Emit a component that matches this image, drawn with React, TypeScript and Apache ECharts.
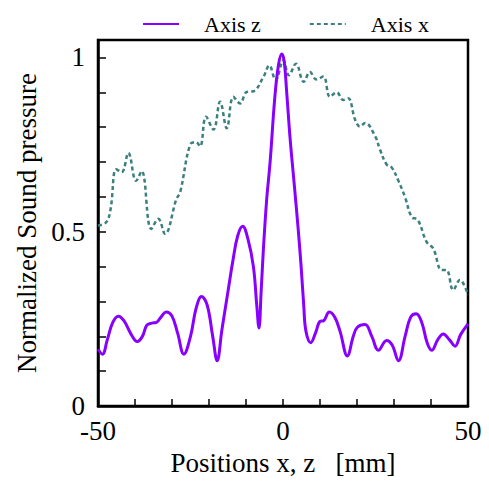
import React, { useEffect, useRef } from "react";
import * as echarts from "echarts";

const Z_POS = [-50, -48.8, -47.5, -46, -44.5, -43, -41, -39.4, -38, -36.8, -35.5, -34.2, -33, -31.6, -30, -28.5, -26.8, -25, -23.5, -22, -20.5, -19, -17.8, -16.5, -15, -13.5, -12.2, -10.9, -9.5, -8.0, -7.1, -6.5, -5.9, -5.3, -4.4, -3.5, -2.2, -1.2, -0.35, 0.3, 1.0, 1.9, 3.0, 4.1, 4.9, 5.6, 6.2, 7.5, 8.8, 10, 11, 12.5, 14, 15.4, 17.4, 19, 20.1, 22.2, 24, 25.8, 28, 29.5, 31.2, 33, 34.5, 36, 37.5, 39, 40.2, 41.8, 43.3, 45, 46.5, 48, 50];
const Z_VAL = [0.163, 0.149, 0.19, 0.24, 0.258, 0.245, 0.205, 0.185, 0.2, 0.232, 0.238, 0.24, 0.255, 0.27, 0.258, 0.21, 0.149, 0.2, 0.28, 0.314, 0.29, 0.2, 0.13, 0.22, 0.32, 0.42, 0.49, 0.516, 0.48, 0.40, 0.29, 0.224, 0.33, 0.45, 0.594, 0.698, 0.887, 0.98, 1.01, 0.99, 0.9, 0.77, 0.64, 0.508, 0.40, 0.29, 0.215, 0.182, 0.21, 0.243, 0.245, 0.27, 0.255, 0.215, 0.144, 0.2, 0.226, 0.234, 0.2, 0.16, 0.188, 0.175, 0.13, 0.2, 0.255, 0.265, 0.24, 0.18, 0.16, 0.19, 0.207, 0.19, 0.172, 0.205, 0.236];

const X_POS = [-50, -47.8, -46.6, -45.1, -43.6, -41.8, -39.7, -38.2, -35.6, -33.7, -31.9, -28.8, -27.8, -25.1, -23.5, -22.4, -20.8, -18.8, -17, -15.2, -13.4, -11.6, -9.8, -8.0, -5.3, -3.7, -2.0, 0.1, 1.6, 3.5, 5.6, 7.3, 9.0, 10.9, 12.7, 14.5, 16.3, 17.6, 19.5, 20.8, 22.2, 24.9, 26.2, 28, 29.4, 31.2, 33, 34.8, 36.4, 38.8, 40.6, 42.9, 44.2, 46, 47.8, 50];
const X_VAL = [0.518, 0.527, 0.565, 0.679, 0.671, 0.726, 0.646, 0.674, 0.508, 0.537, 0.494, 0.594, 0.613, 0.75, 0.757, 0.745, 0.83, 0.793, 0.873, 0.797, 0.887, 0.868, 0.901, 0.903, 0.944, 0.977, 0.935, 0.991, 0.949, 0.982, 0.93, 0.958, 0.937, 0.945, 0.887, 0.9, 0.878, 0.883, 0.821, 0.802, 0.812, 0.774, 0.736, 0.693, 0.684, 0.646, 0.599, 0.542, 0.535, 0.471, 0.452, 0.39, 0.39, 0.333, 0.362, 0.319];

const X_LABELS = [-50, 0, 50];
const Y_LABELS = [0, 0.5, 1];

const FONT = "'Liberation Serif', 'Times New Roman', 'DejaVu Serif', serif";
const PURPLE = "#8800ff";
const TEAL = "#3b7f7f";

export default function App() {
  const ref = useRef<HTMLDivElement>(null);
  useEffect(() => {
    if (!ref.current) return;
    const chart = echarts.init(ref.current, null, { renderer: "svg" });
    chart.setOption({
      animation: false,
      textStyle: { fontFamily: FONT },
      legend: {
        left: 137,
        top: 8,
        itemWidth: 36,
        itemHeight: 14,
        itemGap: 48,
        itemStyle: { opacity: 0 },
        textStyle: { fontFamily: FONT, fontSize: 22, color: "#000", padding: [0, 0, 0, 20] },
        data: ["Axis z", "Axis x"],
      },
      grid: {
        left: 98,
        right: 21,
        top: 40,
        bottom: 72,
        show: true,
        borderColor: "#000",
        borderWidth: 2.5,
        backgroundColor: "transparent",
      },
      xAxis: {
        type: "value",
        min: -50,
        max: 50,
        interval: 10,
        name: "Positions x, z   [mm]",
        nameLocation: "middle",
        nameGap: 42,
        nameTextStyle: { fontFamily: FONT, fontSize: 27, color: "#000" },
        axisLine: { onZero: false, lineStyle: { color: "#000", width: 2.5 } },
        axisTick: { inside: true, length: 7, lineStyle: { color: "#000", width: 1.5 } },
        axisLabel: {
          margin: 11,
          fontFamily: FONT,
          fontSize: 27,
          color: "#000",
          formatter: (v: number) => (X_LABELS.includes(v) ? String(v) : ""),
        },
        splitLine: { show: false },
      },
      yAxis: {
        type: "value",
        min: 0,
        max: 1.05,
        interval: 0.1,
        name: "Normalized Sound pressure",
        nameLocation: "middle",
        nameGap: 56,
        nameTextStyle: { fontFamily: FONT, fontSize: 27, color: "#000" },
        axisLine: { show: true, onZero: false, lineStyle: { color: "#000", width: 2.5 } },
        axisTick: { show: true, inside: true, length: 8, lineStyle: { color: "#000", width: 1.5 } },
        axisLabel: {
          margin: 13,
          fontFamily: FONT,
          fontSize: 27,
          color: "#000",
          formatter: (v: number) => {
            const r = Math.round(v * 100) / 100;
            return Y_LABELS.includes(r) ? String(r) : "";
          },
        },
        splitLine: { show: false },
      },
      series: [
        {
          name: "Axis z",
          type: "line",
          data: Z_POS.map((x, i) => [x, Z_VAL[i]]),
          smooth: 0.4,
          symbol: "none",
          lineStyle: { color: PURPLE, width: 3 },
          itemStyle: { color: PURPLE },
          z: 3,
        },
        {
          name: "Axis x",
          type: "line",
          data: X_POS.map((x, i) => [x, X_VAL[i]]),
          smooth: 0.4,
          symbol: "none",
          lineStyle: { color: TEAL, width: 2.5, type: [4, 3] },
          itemStyle: { color: TEAL },
          z: 2,
        },
      ],
    });
    return () => chart.dispose();
  }, []);
  return <div ref={ref} style={{ width: 489, height: 481, position: "absolute", left: 0, top: 0 }} />;
}
